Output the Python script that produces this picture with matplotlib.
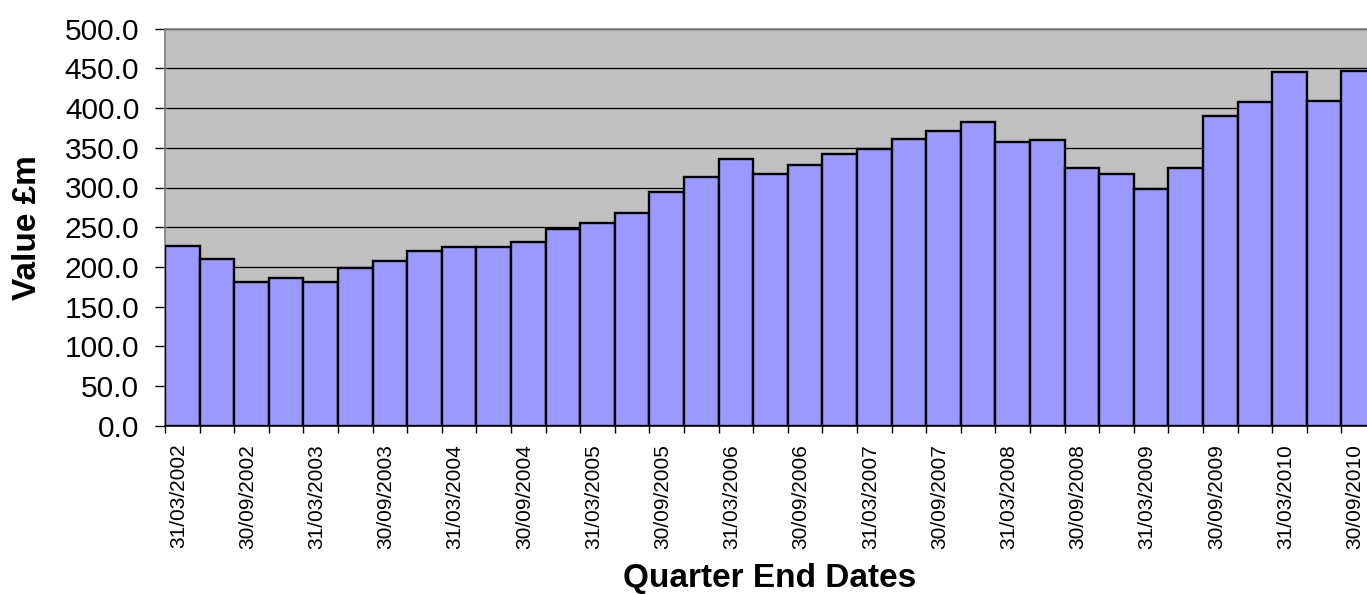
import matplotlib
matplotlib.use("Agg")
import matplotlib.pyplot as plt
import matplotlib.transforms as mtransforms
import numpy as np

plt.rcParams['font.family'] = ['Liberation Sans', 'DejaVu Sans']

quarters = [
    "31/03/2002", "30/06/2002", "30/09/2002", "31/12/2002",
    "31/03/2003", "30/06/2003", "30/09/2003", "31/12/2003",
    "31/03/2004", "30/06/2004", "30/09/2004", "31/12/2004",
    "31/03/2005", "30/06/2005", "30/09/2005", "31/12/2005",
    "31/03/2006", "30/06/2006", "30/09/2006", "31/12/2006",
    "31/03/2007", "30/06/2007", "30/09/2007", "31/12/2007",
    "31/03/2008", "30/06/2008", "30/09/2008", "31/12/2008",
    "31/03/2009", "30/06/2009", "30/09/2009", "31/12/2009",
    "31/03/2010", "30/06/2010", "30/09/2010",
]
values = [
    226.3, 209.6, 180.6, 186.4, 180.6, 199.0, 207.4, 220.4,
    225.5, 225.5, 231.4, 247.7, 254.9, 268.3, 294.7, 312.8,
    336.3, 317.0, 328.3, 341.8, 348.9, 361.5, 371.5, 382.9,
    356.9, 359.4, 325.0, 317.4, 298.5, 324.2, 390.4, 408.0,
    445.8, 409.0, 447.0,
]
y_ticks = [0, 50, 100, 150, 200, 250, 300, 350, 400, 450, 500]

W, H = 1367, 594
fig = plt.figure(figsize=(W / 100, H / 100), dpi=100)
n = len(values)
left_px, right_px = 165, 165 + n * 34.6
top_px, bottom_px = 28.7, 425.7
ax = fig.add_axes([left_px / W, 1 - bottom_px / H,
                   (right_px - left_px) / W, (bottom_px - top_px) / H])
ax.set_facecolor('#C0C0C0')

x = np.arange(n)
ax.bar(x, values, width=1.0, color='#9999FF', edgecolor='black',
       linewidth=1.7, zorder=3)

ax.set_xlim(-0.5, n - 0.5)
ax.set_ylim(0, 500)
ax.set_yticks(y_ticks)
ax.set_yticklabels([f"{v:.1f}" for v in y_ticks], fontsize=21.5)
ax.yaxis.grid(True, color='black', linewidth=0.9, zorder=1)
ax.set_axisbelow(True)

# category labels on every other bar, tick marks at bar edges
ax.set_xticks(x[::2])
ax.set_xticklabels(quarters[::2], rotation=90, fontsize=15)
ax.tick_params(axis='x', which='major', length=0, pad=13)
shift = mtransforms.ScaledTranslation(-4 / 100, 0, fig.dpi_scale_trans)
for lbl in ax.get_xticklabels():
    lbl.set_transform(lbl.get_transform() + shift)
ax.set_xticks(np.arange(n + 1) - 0.5, minor=True)
ax.tick_params(axis='x', which='minor', length=5, width=1, color='black',
               direction='out')
ax.tick_params(axis='y', length=7.5, width=1, color='black', direction='out',
               pad=11)

for side in ('left', 'top'):
    ax.spines[side].set_color('#808080')
    ax.spines[side].set_linewidth(1.2)
ax.spines['bottom'].set_color('black')
ax.spines['bottom'].set_linewidth(1.2)
ax.spines['right'].set_visible(False)

fig.text(27 / W, 1 - 228 / H, "Value £m", rotation=90, fontsize=24,
         fontweight='bold', ha='center', va='center')
fig.text(770 / W, 1 - 579 / H, "Quarter End Dates", fontsize=24,
         fontweight='bold', ha='center', va='center')

fig.savefig("out.png", dpi=100)
